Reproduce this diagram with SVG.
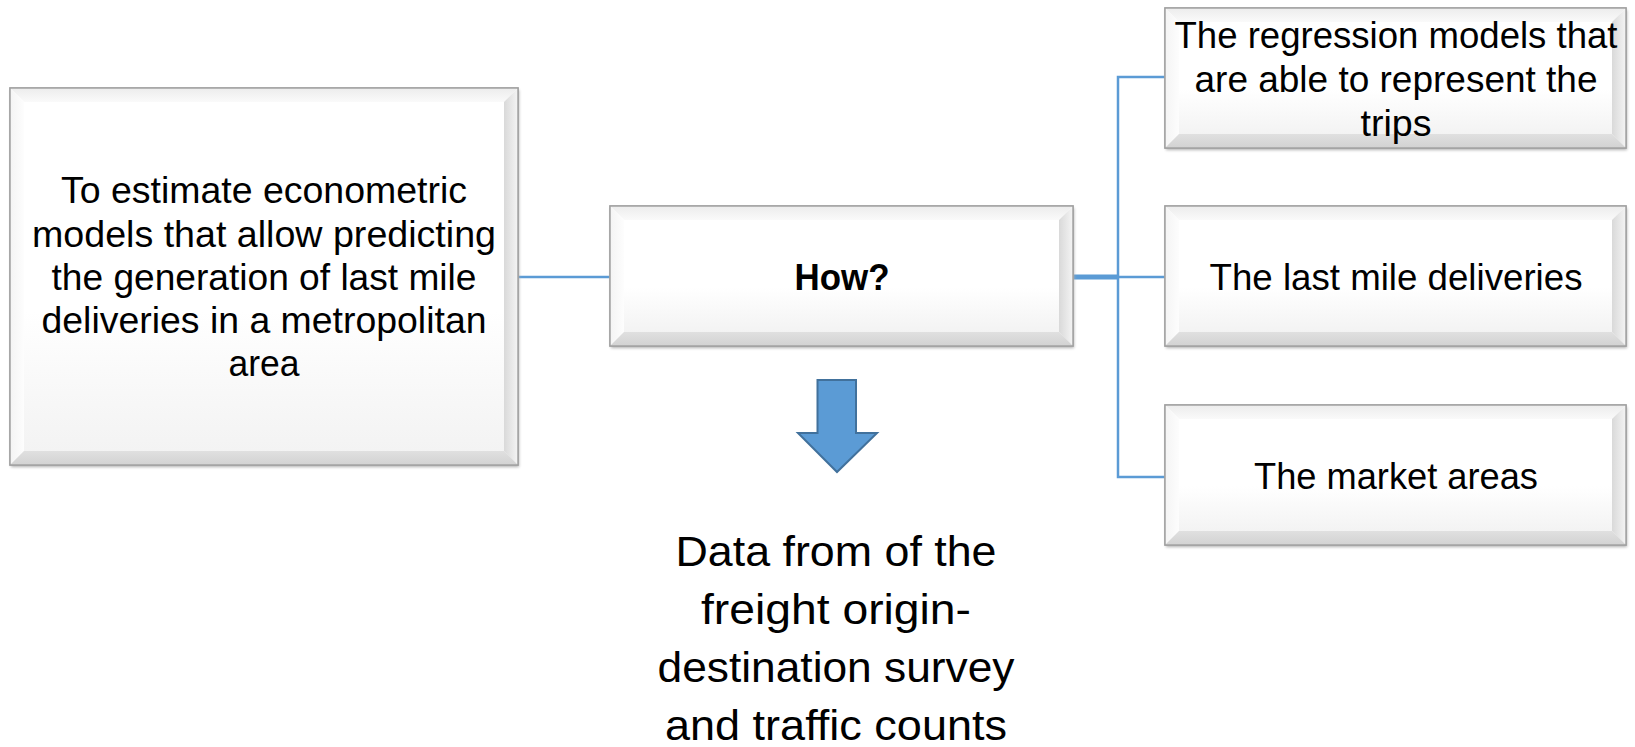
<svg xmlns="http://www.w3.org/2000/svg" width="1635" height="747" viewBox="0 0 1635 747">
<defs>
<linearGradient id="gFace" x1="0" y1="0" x2="0" y2="1"><stop offset="0" stop-color="#FFFFFF"/><stop offset="0.6" stop-color="#FFFFFF"/><stop offset="1" stop-color="#F3F3F3"/></linearGradient>
<linearGradient id="gTop" x1="0" y1="0" x2="0" y2="1"><stop offset="0" stop-color="#ECECEC"/><stop offset="1" stop-color="#FAFAFA"/></linearGradient>
<linearGradient id="gLeft" x1="0" y1="0" x2="1" y2="0"><stop offset="0" stop-color="#F4F4F4"/><stop offset="1" stop-color="#FDFDFD"/></linearGradient>
<linearGradient id="gRight" x1="0" y1="0" x2="1" y2="0"><stop offset="0" stop-color="#D9D9D9"/><stop offset="1" stop-color="#F4F4F4"/></linearGradient>
<linearGradient id="gBottom" x1="0" y1="0" x2="0" y2="1"><stop offset="0" stop-color="#E0E0E0"/><stop offset="1" stop-color="#D2D2D2"/></linearGradient>
<filter id="shadow" x="-5%" y="-5%" width="110%" height="115%"><feGaussianBlur stdDeviation="1.5"/></filter>
</defs>
<style>
.sh{fill:#B0B0B0;filter:url(#shadow)}
.outer{fill:url(#gFace);stroke:#A3A3A3;stroke-width:1.5}
.bt{fill:url(#gTop)}
.bl{fill:url(#gLeft)}
.br{fill:url(#gRight)}
.bb{fill:url(#gBottom)}
.face{fill:url(#gFace)}
.t{font-family:"Liberation Sans",Arial,sans-serif;font-size:36px;fill:#000;text-anchor:middle}
.tb{font-weight:bold}
.big{font-size:43px}
.con{fill:none;stroke:#5B9BD5;stroke-width:2.5}
.stub{fill:none;stroke:#5B9BD5;stroke-width:5}
.arrow{fill:#5B9BD5;stroke:#41719C;stroke-width:2}
</style>

<g id="connectors">
<path class="con" d="M518 277 H610"/>
<path class="stub" d="M1073 277 H1118"/>
<path class="con" d="M1165 77 H1118 V477 H1165"/>
<path class="con" d="M1118 277 H1165"/>
</g>

<g id="goal">
<rect class="sh" x="11" y="90" width="508" height="377"/>
<rect class="outer" x="10" y="88" width="508" height="377"/>
<polygon class="bt" points="10,88 518,88 504,102 24,102"/>
<polygon class="bl" points="10,88 24,102 24,451 10,465"/>
<polygon class="br" points="518,88 504,102 504,451 518,465"/>
<polygon class="bb" points="10,465 518,465 504,451 24,451"/>
<rect class="face" x="24" y="102" width="480" height="349"/>
<rect x="10" y="88" width="508" height="377" fill="none" stroke="#A3A3A3" stroke-width="1.5"/>
<text class="t" x="264" y="203" textLength="406" lengthAdjust="spacingAndGlyphs">To estimate econometric</text>
<text class="t" x="264" y="247" textLength="464" lengthAdjust="spacingAndGlyphs">models that allow predicting</text>
<text class="t" x="264" y="290" textLength="425" lengthAdjust="spacingAndGlyphs">the generation of last mile</text>
<text class="t" x="264" y="333" textLength="445" lengthAdjust="spacingAndGlyphs">deliveries in a metropolitan</text>
<text class="t" x="264" y="376" textLength="71" lengthAdjust="spacingAndGlyphs">area</text>
</g>

<g id="how">
<rect class="sh" x="611" y="208" width="463" height="140"/>
<rect class="outer" x="610" y="206" width="463" height="140"/>
<polygon class="bt" points="610,206 1073,206 1059,220 624,220"/>
<polygon class="bl" points="610,206 624,220 624,332 610,346"/>
<polygon class="br" points="1073,206 1059,220 1059,332 1073,346"/>
<polygon class="bb" points="610,346 1073,346 1059,332 624,332"/>
<rect class="face" x="624" y="220" width="435" height="112"/>
<rect x="610" y="206" width="463" height="140" fill="none" stroke="#A3A3A3" stroke-width="1.5"/>
<text class="t tb" x="842" y="290" textLength="95" lengthAdjust="spacingAndGlyphs">How?</text>
</g>

<g id="regression">
<rect class="sh" x="1166" y="10" width="461" height="140"/>
<rect class="outer" x="1165" y="8" width="461" height="140"/>
<polygon class="bt" points="1165,8 1626,8 1612,22 1179,22"/>
<polygon class="bl" points="1165,8 1179,22 1179,134 1165,148"/>
<polygon class="br" points="1626,8 1612,22 1612,134 1626,148"/>
<polygon class="bb" points="1165,148 1626,148 1612,134 1179,134"/>
<rect class="face" x="1179" y="22" width="433" height="112"/>
<rect x="1165" y="8" width="461" height="140" fill="none" stroke="#A3A3A3" stroke-width="1.5"/>
<text class="t" x="1396" y="48" textLength="443" lengthAdjust="spacingAndGlyphs">The regression models that</text>
<text class="t" x="1396" y="92" textLength="403" lengthAdjust="spacingAndGlyphs">are able to represent the</text>
<text class="t" x="1396" y="136" textLength="71" lengthAdjust="spacingAndGlyphs">trips</text>
</g>

<g id="lastmile">
<rect class="sh" x="1166" y="208" width="461" height="140"/>
<rect class="outer" x="1165" y="206" width="461" height="140"/>
<polygon class="bt" points="1165,206 1626,206 1612,220 1179,220"/>
<polygon class="bl" points="1165,206 1179,220 1179,332 1165,346"/>
<polygon class="br" points="1626,206 1612,220 1612,332 1626,346"/>
<polygon class="bb" points="1165,346 1626,346 1612,332 1179,332"/>
<rect class="face" x="1179" y="220" width="433" height="112"/>
<rect x="1165" y="206" width="461" height="140" fill="none" stroke="#A3A3A3" stroke-width="1.5"/>
<text class="t" x="1396" y="290" textLength="373" lengthAdjust="spacingAndGlyphs">The last mile deliveries</text>
</g>

<g id="market">
<rect class="sh" x="1166" y="407" width="461" height="140"/>
<rect class="outer" x="1165" y="405" width="461" height="140"/>
<polygon class="bt" points="1165,405 1626,405 1612,419 1179,419"/>
<polygon class="bl" points="1165,405 1179,419 1179,531 1165,545"/>
<polygon class="br" points="1626,405 1612,419 1612,531 1626,545"/>
<polygon class="bb" points="1165,545 1626,545 1612,531 1179,531"/>
<rect class="face" x="1179" y="419" width="433" height="112"/>
<rect x="1165" y="405" width="461" height="140" fill="none" stroke="#A3A3A3" stroke-width="1.5"/>
<text class="t" x="1396" y="489" textLength="284" lengthAdjust="spacingAndGlyphs">The market areas</text>
</g>

<g id="down-arrow">
<polygon class="arrow" points="817.5,380 856,380 856,433 877,433 837,472 798,433 817.5,433"/>
</g>

<g id="data">
<text class="t big" x="836" y="566" textLength="321" lengthAdjust="spacingAndGlyphs">Data from of the</text>
<text class="t big" x="836" y="624" textLength="270" lengthAdjust="spacingAndGlyphs">freight origin-</text>
<text class="t big" x="836" y="682" textLength="357" lengthAdjust="spacingAndGlyphs">destination survey</text>
<text class="t big" x="836" y="740" textLength="342" lengthAdjust="spacingAndGlyphs">and traffic counts</text>
</g>
</svg>
